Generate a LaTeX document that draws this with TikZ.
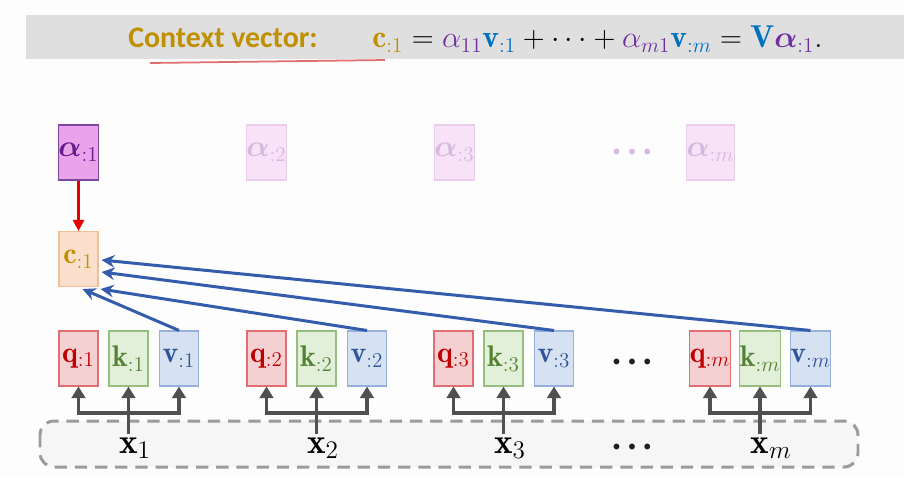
\documentclass[tikz,border=0pt]{standalone}
\usepackage{amsmath}
\usepackage{amssymb}
\usepackage{fontspec}
\newfontfamily\titlefont{Carlito}
\usetikzlibrary{
  arrows.meta,
  positioning
}
\definecolor{pagecolor}{RGB}{253, 253, 253}
\definecolor{bandcolor}{RGB}{224, 223, 224}
\definecolor{goldcolor}{RGB}{191, 144, 0}
\definecolor{purplecolor}{RGB}{112, 48, 160}
\definecolor{bluecolor}{RGB}{0, 112, 192}
\definecolor{underlinecolor}{RGB}{225, 110, 110}
\definecolor{qtext}{RGB}{192, 0, 0}
\definecolor{qfill}{RGB}{244, 208, 210}
\definecolor{qdraw}{RGB}{224, 110, 115}
\definecolor{ktext}{RGB}{84, 130, 53}
\definecolor{kfill}{RGB}{226, 239, 217}
\definecolor{kdraw}{RGB}{150, 190, 125}
\definecolor{vtext}{RGB}{47, 85, 151}
\definecolor{vfill}{RGB}{214, 225, 242}
\definecolor{vdraw}{RGB}{150, 175, 220}
\definecolor{afill}{RGB}{234, 162, 234}
\definecolor{adraw}{RGB}{125, 70, 160}
\definecolor{atext}{RGB}{100, 30, 140}
\definecolor{fadefill}{RGB}{247, 226, 247}
\definecolor{fadedraw}{RGB}{236, 204, 236}
\definecolor{fadetext}{RGB}{212, 186, 222}
\definecolor{cfill}{RGB}{250, 224, 204}
\definecolor{cdraw}{RGB}{242, 190, 150}
\definecolor{arrowblue}{RGB}{52, 92, 172}
\definecolor{arrowgray}{RGB}{80, 80, 80}
\definecolor{arrowred}{RGB}{230, 0, 0}
\definecolor{dashcolor}{RGB}{155, 155, 155}
\definecolor{inputfill}{RGB}{246, 246, 246}
\tikzset{
vecbox/.style={
  draw,
  line width=0.6pt,
  minimum width=0.78cm,
  minimum height=1.1cm,
  inner sep=0pt,
  font=\fontsize{17}{20}\selectfont
},
qbox/.style={vecbox, fill=qfill, draw=qdraw, text=qtext},
kbox/.style={vecbox, fill=kfill, draw=kdraw, text=ktext},
vbox/.style={vecbox, fill=vfill, draw=vdraw, text=vtext},
alphabox/.style={vecbox, fill=afill, draw=adraw, text=atext},
fadebox/.style={vecbox, fill=fadefill, draw=fadedraw, text=fadetext},
cbox/.style={vecbox, fill=cfill, draw=cdraw, text=goldcolor},
xlabel/.style={
  inner sep=1pt,
  font=\fontsize{20}{24}\selectfont
},
dotslabel/.style={
  inner sep=0pt,
  font=\fontsize{8}{10}\selectfont
},
bluearrow/.style={
  -{Stealth[length=2.6mm,width=2.5mm]},
  line width=1.7pt,
  draw=arrowblue
},
grayarrow/.style={
  -{Triangle[length=2.3mm,width=2.7mm]},
  line width=1.8pt,
  draw=arrowgray
},
redarrow/.style={
  -{Triangle[length=2.2mm,width=2.2mm]},
  line width=1.5pt,
  draw=arrowred
},
inputband/.style={
  draw=dashcolor,
  fill=inputfill,
  dash pattern=on 7pt off 4.5pt,
  line width=1.7pt,
  rounded corners=8pt
}
}
\newcommand{\bigdots}{$\bullet\hspace{2.6pt}\bullet\hspace{2.6pt}\bullet$}

\begin{document}
\begin{tikzpicture}[x=0.02cm, y=-0.02cm]
  % page and title band
  \fill[pagecolor] (0,0) rectangle (904,478);
  \fill[bandcolor] (26,15) rectangle (904,59);
  \node[anchor=west, inner sep=0pt, text=goldcolor, font=\titlefont\bfseries\fontsize{17}{20}\selectfont] (title) at (128,38) {Context vector:};
  \node[anchor=west, inner sep=0pt, font=\fontsize{18}{21}\selectfont] (formula) at (372,39)
    {$\color{goldcolor}\mathbf{c}_{:1} \color{black}= \color{purplecolor}\alpha_{11}\color{bluecolor}\mathbf{v}_{:1} \color{black}+ \cdots + \color{purplecolor}\alpha_{m1}\color{bluecolor}\mathbf{v}_{:m} \color{black}= \color{bluecolor}\mathbf{V}\color{purplecolor}\boldsymbol{\alpha}_{:1}\color{black}.$};
  \draw[underlinecolor, line width=1pt] (150,63) -- (385,60);

  % attention weights
  \node[alphabox] (a1) at (78.5,152.5) {$\boldsymbol{\alpha}_{:1}$};
  \node[fadebox] (a2) at (266.5,152.5) {$\boldsymbol{\alpha}_{:2}$};
  \node[fadebox] (a3) at (454.5,152.5) {$\boldsymbol{\alpha}_{:3}$};
  \node[dotslabel, text=fadetext] (adots) at (632,152) {\bigdots};
  \node[fadebox] (am) at (710.5,152.5) {$\boldsymbol{\alpha}_{:m}$};

  % context vector
  \node[cbox] (c1) at (78.5,259) {$\mathbf{c}_{:1}$};
  \draw[redarrow] (a1.south) -- (c1.north);

  % inputs
  \draw[inputband] (40,421) rectangle (858,467);

  \foreach \i/\px in {1/78.5, 2/266.5, 3/453.5, m/710} {
    \node[qbox] (q\i) at (\px,358.5) {$\mathbf{q}_{:\i}$};
    \node[kbox] (k\i) at ({\px+50},358.5) {$\mathbf{k}_{:\i}$};
    \node[vbox] (v\i) at ({\px+100.5},358.5) {$\mathbf{v}_{:\i}$};
    \node[xlabel, anchor=base west] (x\i) at ([xshift=-0.23cm]k\i.center |- 0,453) {$\mathbf{x}_{\i}$};
    \coordinate (bar\i) at (k\i.center |- 0,413);
    \coordinate (in\i) at (k\i.center |- 0,434);
    \draw[grayarrow] (in\i) -- (k\i.south);
    \draw[grayarrow, {Triangle[length=2.3mm,width=2.7mm]}-{Triangle[length=2.3mm,width=2.7mm]}] (q\i.south) |- (bar\i) -| (v\i.south);
  }
  \node[dotslabel, text=black!88] (qdots) at (632,362) {\bigdots};
  \node[dotslabel, text=black!88] (xdots) at (632,447) {\bigdots};

  % values into context
  \draw[bluearrow] (v1.north) -- ([shift={(4,2)}]c1.south);
  \draw[bluearrow] (v2.north) -- ([shift={(2,2)}]c1.south east);
  \draw[bluearrow] (v3.north) -- ([shift={(3,13)}]c1.east);
  \draw[bluearrow] (vm.north) -- ([shift={(3,1)}]c1.east);
\end{tikzpicture}
\end{document}
